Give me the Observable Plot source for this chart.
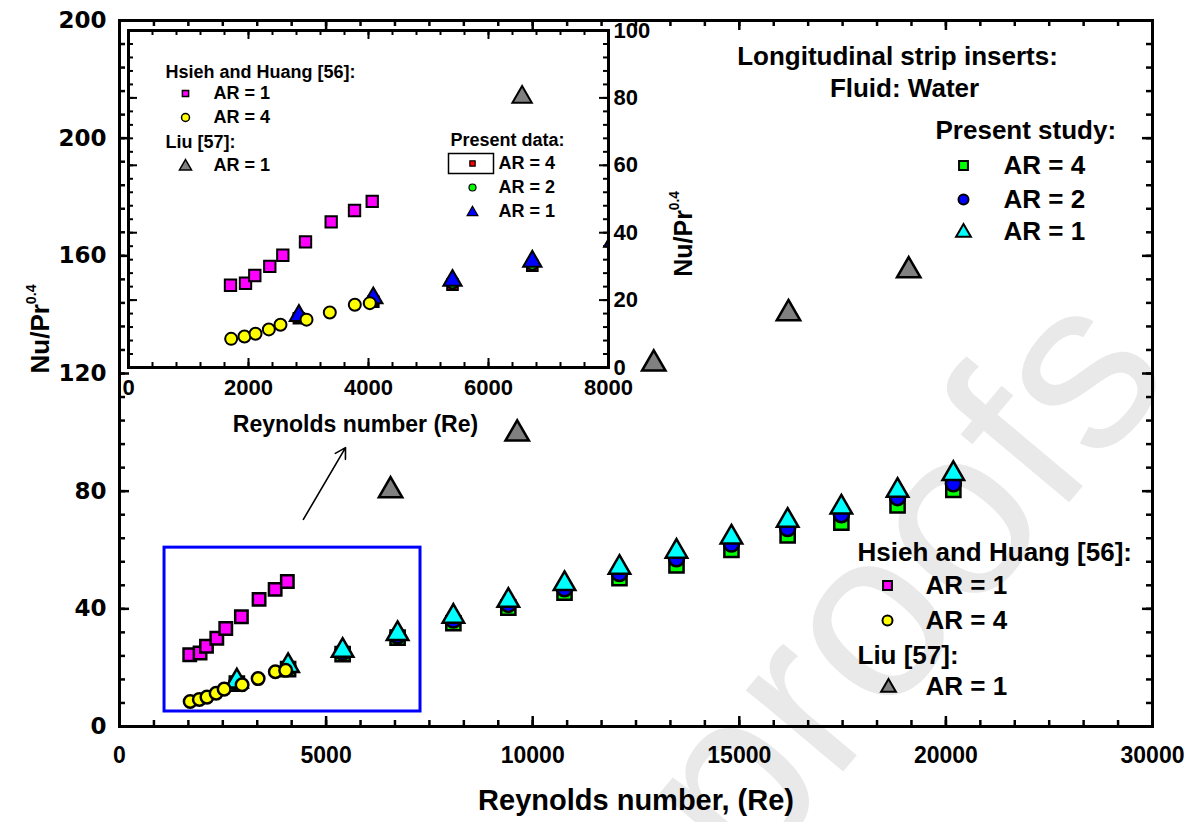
<!DOCTYPE html>
<html><head><meta charset="utf-8">
<script src="https://cdn.jsdelivr.net/npm/d3@7"></script>
<script src="https://cdn.jsdelivr.net/npm/@observablehq/plot@0.6"></script>
<style>
html,body{margin:0;padding:0;background:#fff;}
#wrap{position:relative;width:1201px;height:822px;overflow:hidden;background:#fff;}
#wrap svg{position:absolute;}
</style></head><body><div id="wrap"></div>
<script>
// ---------- data ----------
const presentRe  = [2840, 4080, 5400, 6730, 8080, 9410, 10770, 12100, 13480, 14810, 16170, 17470, 18830, 20180];
const presentAR1 = [15.4, 20.6, 25.8, 31.5, 37.4, 42.8, 48.5, 54.0, 59.5, 64.3, 70.0, 74.5, 80.2, 85.9];
const presentAR2 = [15.0, 20.0, 25.2, 30.8, 36.2, 41.5, 46.8, 52.0, 57.0, 62.0, 67.3, 72.0, 77.8, 82.5];
const presentAR4 = [14.6, 19.5, 24.6, 30.2, 35.1, 40.4, 45.5, 50.4, 54.8, 60.0, 65.0, 69.3, 75.2, 80.4];
const hsiehAR1Re = [1700, 1950, 2105, 2355, 2572, 2950, 3378, 3767, 4062];
const hsiehAR1Nu = [24.4, 25.0, 27.3, 30.0, 33.3, 37.3, 43.2, 46.6, 49.3];
const hsiehAR4Re = [1711, 1933, 2117, 2339, 2533, 2967, 3355, 3772, 4022];
const hsiehAR4Nu = [8.5, 9.2, 10.0, 11.3, 12.7, 14.2, 16.3, 18.6, 19.1];
const liuRe = [6560, 9625, 12930, 16190, 19100];
const liuNu = [80.2, 99.5, 123.3, 140.4, 155.0];

// annotation: zoom box and arrow (data units of the main chart)
const zoomBoxX = [1090, 7285];
const zoomBoxY = [5.1, 60.8];
const arrowFrom = [4450, 70.4];
const arrowTo = [5470, 94.8];

// ticks and tick labels (as printed in the reference)
const mainXTicks = [0, 5000, 10000, 15000, 20000, 25000];
const mainXTickLabels = ["0", "5000", "10000", "15000", "20000", "30000"];
const mainYTicks = [0, 40, 80, 120, 160, 200, 240];
const mainYTickLabels = ["0", "40", "80", "120", "160", "200", "200"];
const insetXTicks = [0, 2000, 4000, 6000, 8000];
const insetXTickLabels = ["0", "2000", "4000", "6000", "8000"];
const insetYTicks = [0, 20, 40, 60, 80, 100];
const insetYTickLabels = ["0", "20", "40", "60", "80", "100"];

// texts
const mainXTitle = "Reynolds number, (Re)";
const mainYTitle = "Nu/Pr^0.4";
const insetXTitle = "Reynolds number (Re)";
const insetYTitle = "Nu/Pr^0.4";
const mainNotes = ["Longitudinal strip inserts:", "Fluid: Water"];
const presentTitle = "Present study:";
const insetPresentTitle = "Present data:";
const arLabels = ["AR = 4", "AR = 2", "AR = 1"];
const hsiehTitle = "Hsieh and Huang [56]:";
const hsiehLabels = ["AR = 1", "AR = 4"];
const liuTitle = "Liu [57]:";
const liuLabels = ["AR = 1"];
const watermark = "Journal Pre-proofs";

// ---------- tables ----------
const present = presentRe.map((re, i) => ({re, ar1: presentAR1[i], ar2: presentAR2[i], ar4: presentAR4[i]}));
const hsieh1 = hsiehAR1Re.map((re, i) => ({re, nu: hsiehAR1Nu[i]}));
const hsieh4 = hsiehAR4Re.map((re, i) => ({re, nu: hsiehAR4Nu[i]}));
const liu = liuRe.map((re, i) => ({re, nu: liuNu[i]}));

const FONT = "Liberation Sans, Arial, Helvetica, sans-serif";
const wrap = document.getElementById("wrap");

function frameTicks(xs, ys, fw, fh, len, sw) {
  const o = {stroke: "black", strokeWidth: sw};
  return [
    Plot.tickX(xs, {...o, x: d => d, insetTop: fh - len}),
    Plot.tickX(xs, {...o, x: d => d, insetBottom: fh - len}),
    Plot.tickY(ys, {...o, y: d => d, insetRight: fw - len}),
    Plot.tickY(ys, {...o, y: d => d, insetLeft: fw - len})
  ];
}
function label(str, dx, dy, size, anchor = "start", extra = {}) {
  return Plot.text([str], {text: d => d, frameAnchor: "top-left", dx, dy, fontSize: size, lineAnchor: "middle",
    textAnchor: anchor, fontWeight: "bold", fontFamily: FONT, fill: "black", ...extra});
}
function sym(dx, dy, symbol, r, fill, sw = 2) {
  return Plot.dot([0], {frameAnchor: "top-left", dx, dy, symbol, r, fill, stroke: "black", strokeWidth: sw});
}
function supify(svg) {
  const ns = "http://www.w3.org/2000/svg";
  svg.querySelectorAll("text").forEach(t => {
    const s = t.textContent;
    if (t.children.length === 0 && s.includes("^")) {
      const [base, sup] = s.split("^");
      t.textContent = "";
      const a = document.createElementNS(ns, "tspan"); a.textContent = base;
      const b = document.createElementNS(ns, "tspan"); b.textContent = sup;
      b.setAttribute("font-size", "0.55em"); b.setAttribute("dy", "-0.9em");
      t.append(a, b);
    }
  });
}

// ---------- main chart ----------
const MW = 1201, MH = 822, ML = 119, MR = 49, MT = 20, MB = 96;
const mfw = MW - ML - MR, mfh = MH - MT - MB;
const xMap = new Map(mainXTicks.map((t, i) => [t, mainXTickLabels[i]]));
const yMap = new Map(mainYTicks.map((t, i) => [t, mainYTickLabels[i]]));

const main = Plot.plot({
  width: MW, height: MH, marginLeft: ML, marginRight: MR, marginTop: MT, marginBottom: MB,
  style: {fontFamily: FONT, background: "transparent", overflow: "visible"},
  x: {domain: [0, 25000], label: null},
  y: {domain: [0, 240], label: null},
  marks: [
    Plot.text([watermark], {text: d => d, frameAnchor: "top-left", dx: 1175 - ML, dy: 375 - MT, rotate: -50,
      textAnchor: "end", lineAnchor: "bottom", fontSize: 240, fill: "#e9e9e9", fontFamily: FONT, fontWeight: "normal"}),
    Plot.frame({stroke: "black", strokeWidth: 3}),
    ...frameTicks(d3.range(0, 25001, 5000 / 6), d3.range(0, 241, 8), mfw, mfh, 6, 2.5),
    ...frameTicks(mainXTicks, mainYTicks, mfw, mfh, 10, 2.5),
    Plot.axisX(mainXTicks, {anchor: "bottom", tickSize: 0, tickPadding: 20, label: null,
      tickFormat: d => xMap.get(d), fontSize: 23, fontWeight: "bold", fontFamily: FONT}),
    Plot.axisY(mainYTicks, {anchor: "left", tickSize: 0, tickPadding: 13, label: null,
      tickFormat: d => yMap.get(d), fontSize: 23, fontWeight: "bold", fontFamily: "DejaVu Sans, sans-serif"}),
    Plot.text([mainXTitle], {text: d => d, frameAnchor: "bottom", dy: 74, lineAnchor: "middle", fontSize: 29, fontWeight: "bold", fontFamily: FONT}),
    Plot.text([mainYTitle], {text: d => d, frameAnchor: "left", dx: -79, rotate: -90, lineAnchor: "middle", fontSize: 26, fontWeight: "bold", fontFamily: FONT}),
    // zoom box + arrow
    Plot.rect([0], {x1: () => zoomBoxX[0], x2: () => zoomBoxX[1], y1: () => zoomBoxY[0], y2: () => zoomBoxY[1],
      fill: "none", stroke: "#0000ff", strokeWidth: 3}),
    Plot.arrow([0], {x1: () => arrowFrom[0], y1: () => arrowFrom[1], x2: () => arrowTo[0], y2: () => arrowTo[1],
      stroke: "black", strokeWidth: 1.6, headLength: 11}),
    // data
    Plot.dot(present, {x: "re", y: "ar4", symbol: "square", r: 8, fill: "#00ff00", stroke: "black", strokeWidth: 2.5}),
    Plot.dot(present, {x: "re", y: "ar2", symbol: "circle", r: 7.5, fill: "#0000ff", stroke: "black", strokeWidth: 2.5}),
    Plot.dot(present, {x: "re", y: "ar1", symbol: "triangle", r: 8, fill: "#00ffff", stroke: "black", strokeWidth: 2.5}),
    Plot.dot(hsieh1, {x: "re", y: "nu", symbol: "square", r: 7, fill: "#ff00ff", stroke: "black", strokeWidth: 2.5}),
    Plot.dot(hsieh4, {x: "re", y: "nu", symbol: "circle", r: 6.3, fill: "#ffff00", stroke: "black", strokeWidth: 2.5}),
    Plot.dot(liu, {x: "re", y: "nu", symbol: "triangle", r: 8.7, fill: "#808080", stroke: "black", strokeWidth: 2.5}),
    // notes and legends
    label(mainNotes[0], 778, 36, 26, "middle"),
    label(mainNotes[1], 785, 68, 26, "middle"),
    label(presentTitle, 816, 110, 26),
    sym(844, 145, "square", 5, "#00ff00"), label(arLabels[0], 884, 145, 26),
    sym(844, 179, "circle", 5, "#0000ff"), label(arLabels[1], 884, 179, 26),
    sym(844, 212, "triangle", 5.5, "#00ffff"), label(arLabels[2], 884, 211, 26),
    label(hsiehTitle, 738, 532, 26),
    sym(768, 565, "square", 5, "#ff00ff"), label(hsiehLabels[0], 806, 565, 26),
    sym(768, 600, "circle", 5, "#ffff00"), label(hsiehLabels[1], 806, 600, 26),
    label(liuTitle, 738, 635, 26),
    sym(769, 667, "triangle", 5.5, "#808080"), label(liuLabels[0], 806, 666, 26)
  ]
});
main.style.left = "0px"; main.style.top = "0px";
supify(main);
wrap.appendChild(main);

// ---------- inset chart ----------
const IL = 10, IT = 10, IFW = 480, IFH = 337, IR = 100, IB = 80;
const ixMap = new Map(insetXTicks.map((t, i) => [t, insetXTickLabels[i]]));
const iyMap = new Map(insetYTicks.map((t, i) => [t, insetYTickLabels[i]]));
const boxSymbol = {draw(ctx) { ctx.rect(-22.5, -10, 45, 20); }};

const inset = Plot.plot({
  width: IL + IFW + IR, height: IT + IFH + IB, marginLeft: IL, marginRight: IR, marginTop: IT, marginBottom: IB,
  style: {fontFamily: FONT, background: "transparent", overflow: "visible"},
  x: {domain: [0, 8000], label: null},
  y: {domain: [0, 100], label: null},
  marks: [
    Plot.frame({fill: "white"}),
    ...frameTicks(d3.range(0, 8001, 400), d3.range(0, 101, 4), IFW, IFH, 5, 2),
    ...frameTicks(insetXTicks, insetYTicks, IFW, IFH, 9, 2),
    Plot.axisX(insetXTicks, {anchor: "bottom", tickSize: 0, tickPadding: 12, label: null,
      tickFormat: d => ixMap.get(d), fontSize: 22, fontWeight: "bold", fontFamily: FONT}),
    Plot.axisY(insetYTicks, {anchor: "right", tickSize: 0, tickPadding: 5, label: null,
      tickFormat: d => iyMap.get(d), fontSize: 22, fontWeight: "bold", fontFamily: FONT}),
    Plot.text([insetXTitle], {text: d => d, frameAnchor: "bottom", dx: -13, dy: 57, lineAnchor: "middle", fontSize: 23, fontWeight: "bold", fontFamily: FONT}),
    Plot.text([insetYTitle], {text: d => d, frameAnchor: "right", dx: 75, dy: -8, rotate: -90, lineAnchor: "middle", fontSize: 25, fontWeight: "bold", fontFamily: FONT}),
    Plot.dot(present, {x: "re", y: "ar4", symbol: "square", r: 6, fill: "#ff0000", stroke: "black", strokeWidth: 2, clip: true}),
    Plot.dot(present, {x: "re", y: "ar2", symbol: "circle", r: 6, fill: "#00ff00", stroke: "black", strokeWidth: 2, clip: true}),
    Plot.dot(present, {x: "re", y: "ar1", symbol: "triangle", r: 6.8, fill: "#0000ff", stroke: "black", strokeWidth: 2, clip: true}),
    Plot.dot(hsieh1, {x: "re", y: "nu", symbol: "square", r: 6.4, fill: "#ff00ff", stroke: "black", strokeWidth: 2, clip: true}),
    Plot.dot(hsieh4, {x: "re", y: "nu", symbol: "circle", r: 6, fill: "#ffff00", stroke: "black", strokeWidth: 2, clip: true}),
    Plot.dot(liu, {x: "re", y: "nu", symbol: "triangle", r: 7.2, fill: "#808080", stroke: "black", strokeWidth: 2, clip: true}),
    Plot.frame({stroke: "black", strokeWidth: 3}),
    // inset legends
    label(hsiehTitle, 37, 42, 18),
    sym(57, 63, "square", 3.5, "#ff00ff", 1.5), label(hsiehLabels[0], 85, 63, 18),
    sym(57, 87, "circle", 4, "#ffff00", 1.5), label(hsiehLabels[1], 85, 87, 18),
    label(liuTitle, 37, 112, 18),
    sym(57, 136, "triangle", 4.5, "#808080", 1.5), label(liuLabels[0], 85, 135, 18),
    label(insetPresentTitle, 322, 110, 18),
    sym(342.5, 133, boxSymbol, 1, "none", 1.5),
    sym(344, 133, "square", 3, "#ff0000", 1.2), label(arLabels[0], 370, 133, 18),
    sym(344, 157, "circle", 3.5, "#00ff00", 1.2), label(arLabels[1], 370, 157, 18),
    sym(344, 182, "triangle", 4, "#0000ff", 1.2), label(arLabels[2], 370, 181, 18)
  ]
});
inset.style.left = "118px"; inset.style.top = "20px";
supify(inset);
wrap.appendChild(inset);
</script></body></html>
